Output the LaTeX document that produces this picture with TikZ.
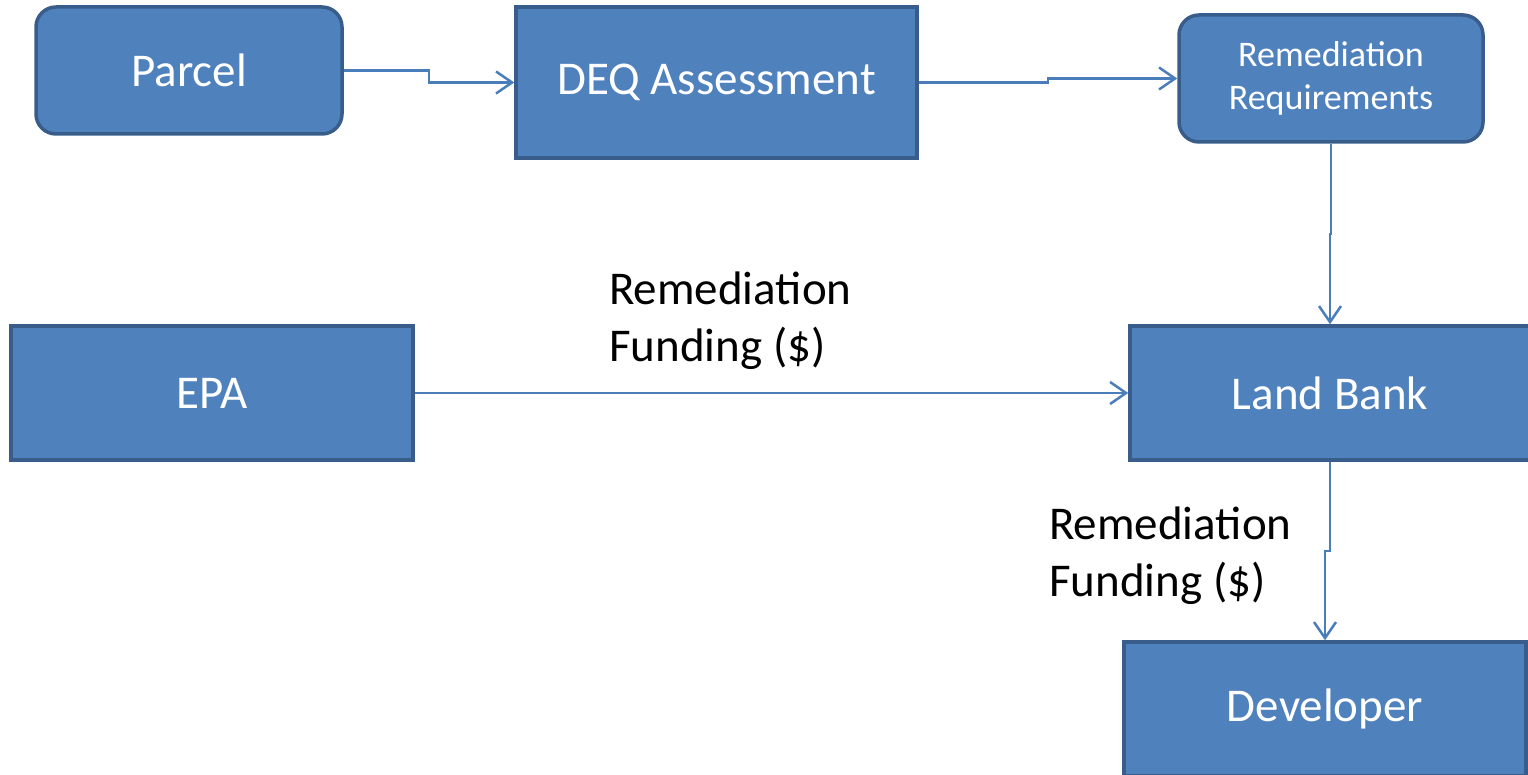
\documentclass[tikz,border=0pt]{standalone}
\usepackage{fontspec}
\setmainfont{Carlito}
\usetikzlibrary{arrows.meta,calc}
\definecolor{boxfill}{HTML}{4F81BD}
\definecolor{boxline}{HTML}{385D8A}
\definecolor{conncol}{HTML}{4A7EBB}
\begin{document}
\begin{tikzpicture}[x=1pt,y=1pt,
  box/.style={draw=boxline, fill=boxfill, line width=3.5pt, text=white,
    minimum width=#1, inner sep=0pt, align=center},
  bigtext/.style={font=\fontsize{47}{57}\selectfont},
  smalltext/.style={font=\fontsize{36}{43}\selectfont},
  rbox/.style={rounded corners=20pt},
  conn/.style={draw=conncol, line width=2.5pt,
    -{Straight Barb[length=16pt,width=22pt,line width=2.5pt]}},
  lbl/.style={font=\fontsize{47}{57}\selectfont, align=left, anchor=north west, inner sep=0pt, text=black}
]
\useasboundingbox (0,0) rectangle (1528,775);

\node[box=306pt, rbox, bigtext, minimum height=127pt] (parcel) at (189,704.5) {Parcel};
\node[box=401pt, bigtext, minimum height=151pt] (deq) at (716.5,692.5) {DEQ Assessment};
\node[box=304pt, rbox, smalltext, minimum height=127pt] (req) at (1331,696.5) {Remediation\\Requirements};
\node[box=402pt, bigtext, minimum height=134pt] (epa) at (212,382) {EPA};
\node[box=400pt, bigtext, minimum height=134pt] (land) at (1330,382) {Land Bank};
\node[box=402pt, bigtext, minimum height=134pt] (dev) at (1325,66) {Developer};

\node[lbl] (lab1) at (609,503) {Remediation\\Funding (\$)};
\node[lbl] (lab2) at (1049,268) {Remediation\\Funding (\$)};

\draw[conn] (parcel.east) -| ($(parcel.east)!0.5!(deq.west)$) |- (deq.west);
\draw[conn] (deq.east) -| ($(deq.east)!0.5!(req.west)$) |- (req.west);
\draw[conn] (req.south) |- ($(req.south)!0.5!(land.north)$) -| (land.north);
\draw[conn] (epa.east) -| ($(epa.east)!0.5!(land.west)$) |- (land.west);
\draw[conn] (land.south) |- ($(land.south)!0.5!(dev.north)$) -| (dev.north);
\end{tikzpicture}
\end{document}
